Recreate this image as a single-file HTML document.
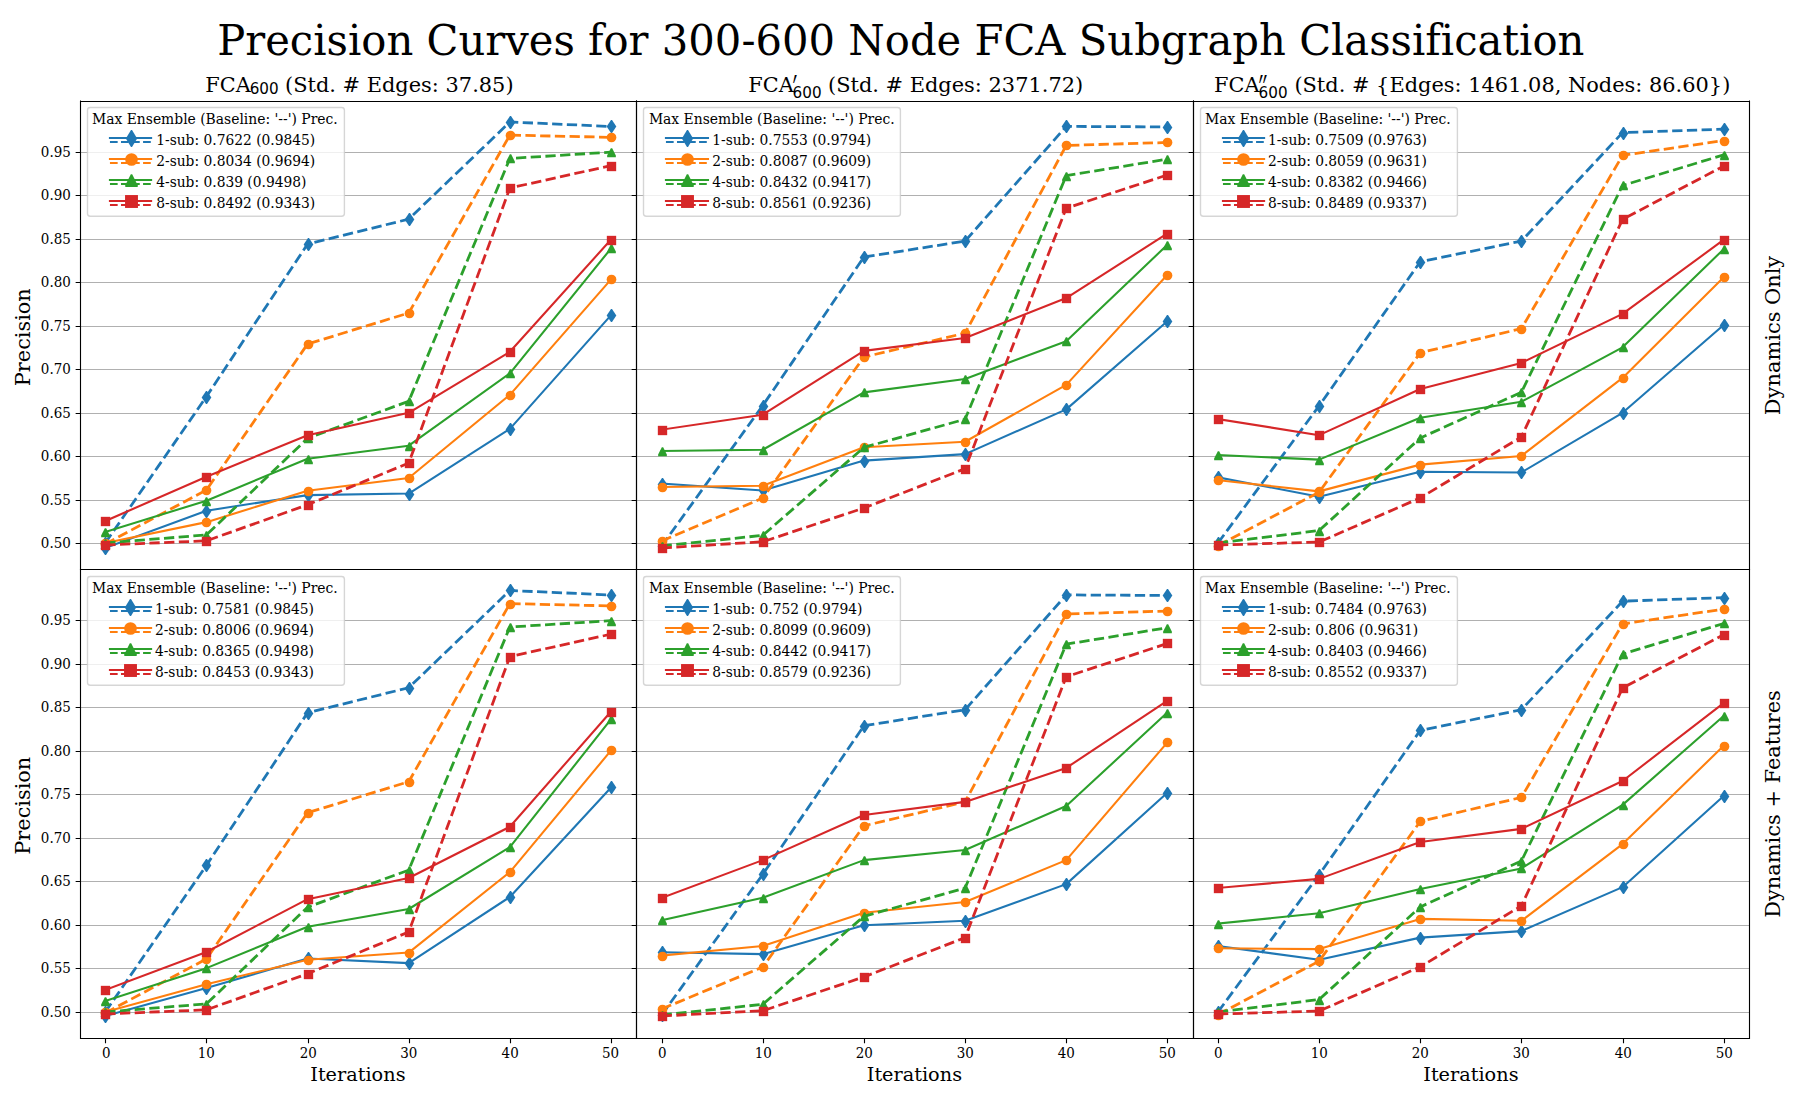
<!DOCTYPE html>
<html lang="en"><head><meta charset="utf-8"><title>Precision Curves for 300-600 Node FCA Subgraph Classification</title>
<style>html,body{margin:0;padding:0;background:#fff}svg{display:block}text{font-variant-ligatures:none;font-feature-settings:"liga" 0,"clig" 0}</style></head>
<body>
<svg width="1800" height="1100" viewBox="0 0 1800 1100" font-family="'DejaVu Serif', 'Liberation Serif', serif" fill="#000">
<rect width="1800" height="1100" fill="#fff"/>
<text transform="translate(900.8 55.2) scale(1 1.033)" font-size="41.71" text-anchor="middle">Precision Curves for 300-600 Node FCA Subgraph Classification</text>
<g>
<path d="M80.5 543.5H636.5M80.5 500.5H636.5M80.5 456.5H636.5M80.5 413.5H636.5M80.5 369.5H636.5M80.5 326.5H636.5M80.5 282.5H636.5M80.5 239.5H636.5M80.5 195.5H636.5M80.5 152.5H636.5" stroke="#b0b0b0" stroke-width="1.11" fill="none"/>
<polyline points="105.29,548 206.44,510.67 307.59,495.12 408.74,493.55 509.89,428.9 611.04,315.15" fill="none" stroke="#1f77b4" stroke-width="2.08" stroke-linejoin="round" stroke-linecap="square"/>
<polygon points="105,542 106,542 110.35,548.5 106,555 105,555 100.65,548.5" fill="#1f77b4"/>
<polygon points="206,505 207,505 211.35,511.5 207,518 206,518 201.65,511.5" fill="#1f77b4"/>
<polygon points="308,489 309,489 313.35,495.5 309,502 308,502 303.65,495.5" fill="#1f77b4"/>
<polygon points="409,488 410,488 414.35,494.5 410,501 409,501 404.65,494.5" fill="#1f77b4"/>
<polygon points="510,423 511,423 515.35,429.5 511,436 510,436 505.65,429.5" fill="#1f77b4"/>
<polygon points="611,309 612,309 616.35,315.5 612,322 611,322 606.65,315.5" fill="#1f77b4"/>
<polyline points="105.29,543 206.44,396.57 307.59,244.06 408.74,219.12 509.89,121.97 611.04,126.49" fill="none" stroke="#1f77b4" stroke-width="2.78" stroke-dasharray="10.28 4.44" stroke-linejoin="round"/>
<polygon points="105,537 106,537 110.35,543.5 106,550 105,550 100.65,543.5" fill="#1f77b4"/>
<polygon points="206,391 207,391 211.35,397.5 207,404 206,404 201.65,397.5" fill="#1f77b4"/>
<polygon points="308,238 309,238 313.35,244.5 309,251 308,251 303.65,244.5" fill="#1f77b4"/>
<polygon points="409,213 410,213 414.35,219.5 410,226 409,226 404.65,219.5" fill="#1f77b4"/>
<polygon points="510,116 511,116 515.35,122.5 511,129 510,129 505.65,122.5" fill="#1f77b4"/>
<polygon points="611,120 612,120 616.35,126.5 612,133 611,133 606.65,126.5" fill="#1f77b4"/>
<polyline points="105.29,543 206.44,522.14 307.59,490.77 408.74,478 509.89,394.84 611.04,279.35" fill="none" stroke="#ff7f0e" stroke-width="2.08" stroke-linejoin="round" stroke-linecap="square"/>
<circle cx="105.5" cy="543.5" r="4.85" fill="#ff7f0e"/>
<circle cx="206.5" cy="522.5" r="4.85" fill="#ff7f0e"/>
<circle cx="308.5" cy="491.5" r="4.85" fill="#ff7f0e"/>
<circle cx="409.5" cy="478.5" r="4.85" fill="#ff7f0e"/>
<circle cx="510.5" cy="395.5" r="4.85" fill="#ff7f0e"/>
<circle cx="611.5" cy="279.5" r="4.85" fill="#ff7f0e"/>
<polyline points="105.29,544 206.44,489.99 307.59,344 408.74,312.98 509.89,135.09 611.04,137.35" fill="none" stroke="#ff7f0e" stroke-width="2.78" stroke-dasharray="10.28 4.44" stroke-linejoin="round"/>
<circle cx="105.5" cy="544.5" r="4.85" fill="#ff7f0e"/>
<circle cx="206.5" cy="490.5" r="4.85" fill="#ff7f0e"/>
<circle cx="308.5" cy="344.5" r="4.85" fill="#ff7f0e"/>
<circle cx="409.5" cy="313.5" r="4.85" fill="#ff7f0e"/>
<circle cx="510.5" cy="135.5" r="4.85" fill="#ff7f0e"/>
<circle cx="611.5" cy="137.5" r="4.85" fill="#ff7f0e"/>
<polyline points="105.29,532 206.44,500.68 307.59,458.71 408.74,445.67 509.89,373.37 611.04,248.41" fill="none" stroke="#2ca02c" stroke-width="2.08" stroke-linejoin="round" stroke-linecap="square"/>
<polygon points="104.8,528.3 106.2,528.3 109.85,535.6 109.85,537.2 101.15,537.2 101.15,535.6" fill="#2ca02c"/>
<polygon points="205.8,497.3 207.2,497.3 210.85,504.6 210.85,506.2 202.15,506.2 202.15,504.6" fill="#2ca02c"/>
<polygon points="307.8,455.3 309.2,455.3 312.85,462.6 312.85,464.2 304.15,464.2 304.15,462.6" fill="#2ca02c"/>
<polygon points="408.8,442.3 410.2,442.3 413.85,449.6 413.85,451.2 405.15,451.2 405.15,449.6" fill="#2ca02c"/>
<polygon points="509.8,369.3 511.2,369.3 514.85,376.6 514.85,378.2 506.15,378.2 506.15,376.6" fill="#2ca02c"/>
<polygon points="610.8,244.3 612.2,244.3 615.85,251.6 615.85,253.2 607.15,253.2 607.15,251.6" fill="#2ca02c"/>
<polyline points="105.29,543 206.44,534.92 307.59,438.29 408.74,401.27 509.89,158.47 611.04,152.12" fill="none" stroke="#2ca02c" stroke-width="2.78" stroke-dasharray="10.28 4.44" stroke-linejoin="round"/>
<polygon points="104.8,539.3 106.2,539.3 109.85,546.6 109.85,548.2 101.15,548.2 101.15,546.6" fill="#2ca02c"/>
<polygon points="205.8,531.3 207.2,531.3 210.85,538.6 210.85,540.2 202.15,540.2 202.15,538.6" fill="#2ca02c"/>
<polygon points="307.8,434.3 309.2,434.3 312.85,441.6 312.85,443.2 304.15,443.2 304.15,441.6" fill="#2ca02c"/>
<polygon points="408.8,397.3 410.2,397.3 413.85,404.6 413.85,406.2 405.15,406.2 405.15,404.6" fill="#2ca02c"/>
<polygon points="509.8,154.3 511.2,154.3 514.85,161.6 514.85,163.2 506.15,163.2 506.15,161.6" fill="#2ca02c"/>
<polygon points="610.8,148.3 612.2,148.3 615.85,155.6 615.85,157.2 607.15,157.2 607.15,155.6" fill="#2ca02c"/>
<polyline points="105.29,521.01 206.44,476.78 307.59,435.24 408.74,412.82 509.89,351.82 611.04,239.55" fill="none" stroke="#d62728" stroke-width="2.08" stroke-linejoin="round" stroke-linecap="square"/>
<rect x="100.83" y="516.83" width="9.34" height="9.34" fill="#d62728"/>
<rect x="201.83" y="472.83" width="9.34" height="9.34" fill="#d62728"/>
<rect x="303.83" y="430.83" width="9.34" height="9.34" fill="#d62728"/>
<rect x="404.83" y="408.83" width="9.34" height="9.34" fill="#d62728"/>
<rect x="505.83" y="347.83" width="9.34" height="9.34" fill="#d62728"/>
<rect x="606.83" y="235.83" width="9.34" height="9.34" fill="#d62728"/>
<polyline points="105.29,545 206.44,540.83 307.59,504.76 408.74,463.05 509.89,188.01 611.04,165.59" fill="none" stroke="#d62728" stroke-width="2.78" stroke-dasharray="10.28 4.44" stroke-linejoin="round"/>
<rect x="100.83" y="540.83" width="9.34" height="9.34" fill="#d62728"/>
<rect x="201.83" y="536.83" width="9.34" height="9.34" fill="#d62728"/>
<rect x="303.83" y="500.83" width="9.34" height="9.34" fill="#d62728"/>
<rect x="404.83" y="458.83" width="9.34" height="9.34" fill="#d62728"/>
<rect x="505.83" y="183.83" width="9.34" height="9.34" fill="#d62728"/>
<rect x="606.83" y="161.83" width="9.34" height="9.34" fill="#d62728"/>
<path d="M80.5 543.5h-4.86M80.5 500.5h-4.86M80.5 456.5h-4.86M80.5 413.5h-4.86M80.5 369.5h-4.86M80.5 326.5h-4.86M80.5 282.5h-4.86M80.5 239.5h-4.86M80.5 195.5h-4.86M80.5 152.5h-4.86" stroke="#000" stroke-width="1.11" fill="none"/>
<path d="M80.5 101.05V569.5M636.5 101.05V569.5M80.5 101.5H636.5M80.5 569.5H636.5" fill="none" stroke="#000" stroke-width="1.11" stroke-linecap="square"/>
<g font-size="13.46" text-anchor="end">
<text transform="translate(70.8 547.9) scale(1 1.08)">0.50</text>
<text transform="translate(70.8 504.9) scale(1 1.08)">0.55</text>
<text transform="translate(70.8 460.9) scale(1 1.08)">0.60</text>
<text transform="translate(70.8 417.9) scale(1 1.08)">0.65</text>
<text transform="translate(70.8 373.9) scale(1 1.08)">0.70</text>
<text transform="translate(70.8 330.9) scale(1 1.08)">0.75</text>
<text transform="translate(70.8 286.9) scale(1 1.08)">0.80</text>
<text transform="translate(70.8 243.9) scale(1 1.08)">0.85</text>
<text transform="translate(70.8 199.9) scale(1 1.08)">0.90</text>
<text transform="translate(70.8 156.9) scale(1 1.08)">0.95</text>
</g>
<text transform="translate(30.1 337.2) rotate(-90)" font-size="20.83" text-anchor="middle">Precision</text>
<rect x="87.5" y="107.5" width="256.9" height="108.75" rx="2.8" ry="2.8" fill="#fff" fill-opacity="0.8" stroke="#ccc" stroke-opacity="0.8" stroke-width="1.39"/>
<g font-size="13.89">
<text transform="translate(92 124.1) scale(1 1.08)">Max Ensemble (Baseline: '--') Prec.</text>
<path d="M109.95 138H151.1" stroke="#1f77b4" stroke-width="2.08" stroke-linecap="square" fill="none"/>
<path d="M109.95 142H151.62" stroke="#1f77b4" stroke-width="2.08" stroke-dasharray="7.71 3.33" fill="none"/>
<polygon points="131,129.9 132,129.9 137.15,138.5 132,147.1 131,147.1 125.85,138.5" fill="#1f77b4"/>
<text transform="translate(156.2 144.86) scale(1 1.08)" font-size="13.8">1-sub: 0.7622 (0.9845)</text>
<path d="M109.95 159H151.1" stroke="#ff7f0e" stroke-width="2.08" stroke-linecap="square" fill="none"/>
<path d="M109.95 163H151.62" stroke="#ff7f0e" stroke-width="2.08" stroke-dasharray="7.71 3.33" fill="none"/>
<circle cx="131.5" cy="159.5" r="6.35" fill="#ff7f0e"/>
<text transform="translate(156.2 165.91) scale(1 1.08)" font-size="13.8">2-sub: 0.8034 (0.9694)</text>
<path d="M109.95 180H151.1" stroke="#2ca02c" stroke-width="2.08" stroke-linecap="square" fill="none"/>
<path d="M109.95 184H151.62" stroke="#2ca02c" stroke-width="2.08" stroke-dasharray="7.71 3.33" fill="none"/>
<polygon points="130.8,174.3 132.2,174.3 137.7,185.3 137.7,186.9 125.3,186.9 125.3,185.3" fill="#2ca02c"/>
<text transform="translate(156.2 186.96) scale(1 1.08)" font-size="13.8">4-sub: 0.839 (0.9498)</text>
<path d="M109.95 201H151.1" stroke="#d62728" stroke-width="2.08" stroke-linecap="square" fill="none"/>
<path d="M109.95 205H151.62" stroke="#d62728" stroke-width="2.08" stroke-dasharray="7.71 3.33" fill="none"/>
<rect x="125.05" y="195.05" width="12.9" height="12.9" fill="#d62728"/>
<text transform="translate(156.2 208.01) scale(1 1.08)" font-size="13.8">8-sub: 0.8492 (0.9343)</text>
</g>
</g>
<g>
<path d="M636.5 543.5H1193.5M636.5 500.5H1193.5M636.5 456.5H1193.5M636.5 413.5H1193.5M636.5 369.5H1193.5M636.5 326.5H1193.5M636.5 282.5H1193.5M636.5 239.5H1193.5M636.5 195.5H1193.5M636.5 152.5H1193.5" stroke="#b0b0b0" stroke-width="1.11" fill="none"/>
<polyline points="661.62,483.65 762.77,490.43 863.92,460.62 965.08,454.1 1066.23,409.35 1167.38,321.14" fill="none" stroke="#1f77b4" stroke-width="2.08" stroke-linejoin="round" stroke-linecap="square"/>
<polygon points="662,478 663,478 667.35,484.5 663,491 662,491 657.65,484.5" fill="#1f77b4"/>
<polygon points="763,484 764,484 768.35,490.5 764,497 763,497 758.65,490.5" fill="#1f77b4"/>
<polygon points="864,455 865,455 869.35,461.5 865,468 864,468 859.65,461.5" fill="#1f77b4"/>
<polygon points="965,448 966,448 970.35,454.5 966,461 965,461 960.65,454.5" fill="#1f77b4"/>
<polygon points="1066,403 1067,403 1071.35,409.5 1067,416 1066,416 1061.65,409.5" fill="#1f77b4"/>
<polygon points="1167,315 1168,315 1172.35,321.5 1168,328 1167,328 1162.65,321.5" fill="#1f77b4"/>
<polyline points="661.62,546 762.77,405.52 863.92,257.01 965.08,241.11 1066.23,126.4 1167.38,126.92" fill="none" stroke="#1f77b4" stroke-width="2.78" stroke-dasharray="10.28 4.44" stroke-linejoin="round"/>
<polygon points="662,540 663,540 667.35,546.5 663,553 662,553 657.65,546.5" fill="#1f77b4"/>
<polygon points="763,400 764,400 768.35,406.5 764,413 763,413 758.65,406.5" fill="#1f77b4"/>
<polygon points="864,251 865,251 869.35,257.5 865,264 864,264 859.65,257.5" fill="#1f77b4"/>
<polygon points="965,235 966,235 970.35,241.5 966,248 965,248 960.65,241.5" fill="#1f77b4"/>
<polygon points="1066,120 1067,120 1071.35,126.5 1067,133 1066,133 1061.65,126.5" fill="#1f77b4"/>
<polygon points="1167,121 1168,121 1172.35,127.5 1168,134 1167,134 1162.65,127.5" fill="#1f77b4"/>
<polyline points="661.62,487.04 762.77,485.82 863.92,447.24 965.08,441.76 1066.23,384.84 1167.38,274.74" fill="none" stroke="#ff7f0e" stroke-width="2.08" stroke-linejoin="round" stroke-linecap="square"/>
<circle cx="662.5" cy="487.5" r="4.85" fill="#ff7f0e"/>
<circle cx="763.5" cy="486.5" r="4.85" fill="#ff7f0e"/>
<circle cx="864.5" cy="447.5" r="4.85" fill="#ff7f0e"/>
<circle cx="965.5" cy="442.5" r="4.85" fill="#ff7f0e"/>
<circle cx="1066.5" cy="385.5" r="4.85" fill="#ff7f0e"/>
<circle cx="1167.5" cy="275.5" r="4.85" fill="#ff7f0e"/>
<polyline points="661.62,541 762.77,498.07 863.92,357.03 965.08,333.14 1066.23,145.43 1167.38,142.48" fill="none" stroke="#ff7f0e" stroke-width="2.78" stroke-dasharray="10.28 4.44" stroke-linejoin="round"/>
<circle cx="662.5" cy="541.5" r="4.85" fill="#ff7f0e"/>
<circle cx="763.5" cy="498.5" r="4.85" fill="#ff7f0e"/>
<circle cx="864.5" cy="357.5" r="4.85" fill="#ff7f0e"/>
<circle cx="965.5" cy="333.5" r="4.85" fill="#ff7f0e"/>
<circle cx="1066.5" cy="145.5" r="4.85" fill="#ff7f0e"/>
<circle cx="1167.5" cy="142.5" r="4.85" fill="#ff7f0e"/>
<polyline points="661.62,450.97 762.77,449.76 863.92,392.4 965.08,378.93 1066.23,341.22 1167.38,244.76" fill="none" stroke="#2ca02c" stroke-width="2.08" stroke-linejoin="round" stroke-linecap="square"/>
<polygon points="661.8,447.3 663.2,447.3 666.85,454.6 666.85,456.2 658.15,456.2 658.15,454.6" fill="#2ca02c"/>
<polygon points="762.8,446.3 764.2,446.3 767.85,453.6 767.85,455.2 759.15,455.2 759.15,453.6" fill="#2ca02c"/>
<polygon points="863.8,388.3 865.2,388.3 868.85,395.6 868.85,397.2 860.15,397.2 860.15,395.6" fill="#2ca02c"/>
<polygon points="964.8,375.3 966.2,375.3 969.85,382.6 969.85,384.2 961.15,384.2 961.15,382.6" fill="#2ca02c"/>
<polygon points="1065.8,337.3 1067.2,337.3 1070.85,344.6 1070.85,346.2 1062.15,346.2 1062.15,344.6" fill="#2ca02c"/>
<polygon points="1166.8,241.3 1168.2,241.3 1171.85,248.6 1171.85,250.2 1163.15,250.2 1163.15,248.6" fill="#2ca02c"/>
<polyline points="661.62,546 762.77,535.35 863.92,447.41 965.08,419.25 1066.23,175.59 1167.38,159.16" fill="none" stroke="#2ca02c" stroke-width="2.78" stroke-dasharray="10.28 4.44" stroke-linejoin="round"/>
<polygon points="661.8,542.3 663.2,542.3 666.85,549.6 666.85,551.2 658.15,551.2 658.15,549.6" fill="#2ca02c"/>
<polygon points="762.8,531.3 764.2,531.3 767.85,538.6 767.85,540.2 759.15,540.2 759.15,538.6" fill="#2ca02c"/>
<polygon points="863.8,443.3 865.2,443.3 868.85,450.6 868.85,452.2 860.15,452.2 860.15,450.6" fill="#2ca02c"/>
<polygon points="964.8,415.3 966.2,415.3 969.85,422.6 969.85,424.2 961.15,424.2 961.15,422.6" fill="#2ca02c"/>
<polygon points="1065.8,172.3 1067.2,172.3 1070.85,179.6 1070.85,181.2 1062.15,181.2 1062.15,179.6" fill="#2ca02c"/>
<polygon points="1166.8,155.3 1168.2,155.3 1171.85,162.6 1171.85,164.2 1163.15,164.2 1163.15,162.6" fill="#2ca02c"/>
<polyline points="661.62,429.68 762.77,414.74 863.92,350.86 965.08,337.92 1066.23,298.03 1167.38,233.55" fill="none" stroke="#d62728" stroke-width="2.08" stroke-linejoin="round" stroke-linecap="square"/>
<rect x="657.83" y="425.83" width="9.34" height="9.34" fill="#d62728"/>
<rect x="758.83" y="410.83" width="9.34" height="9.34" fill="#d62728"/>
<rect x="859.83" y="346.83" width="9.34" height="9.34" fill="#d62728"/>
<rect x="960.83" y="333.83" width="9.34" height="9.34" fill="#d62728"/>
<rect x="1061.83" y="293.83" width="9.34" height="9.34" fill="#d62728"/>
<rect x="1162.83" y="229.83" width="9.34" height="9.34" fill="#d62728"/>
<polyline points="661.62,548 762.77,541.78 863.92,507.98 965.08,468.7 1066.23,208.17 1167.38,174.89" fill="none" stroke="#d62728" stroke-width="2.78" stroke-dasharray="10.28 4.44" stroke-linejoin="round"/>
<rect x="657.83" y="543.83" width="9.34" height="9.34" fill="#d62728"/>
<rect x="758.83" y="537.83" width="9.34" height="9.34" fill="#d62728"/>
<rect x="859.83" y="503.83" width="9.34" height="9.34" fill="#d62728"/>
<rect x="960.83" y="464.83" width="9.34" height="9.34" fill="#d62728"/>
<rect x="1061.83" y="203.83" width="9.34" height="9.34" fill="#d62728"/>
<rect x="1162.83" y="170.83" width="9.34" height="9.34" fill="#d62728"/>
<path d="M636.5 543.5h-4.86M636.5 500.5h-4.86M636.5 456.5h-4.86M636.5 413.5h-4.86M636.5 369.5h-4.86M636.5 326.5h-4.86M636.5 282.5h-4.86M636.5 239.5h-4.86M636.5 195.5h-4.86M636.5 152.5h-4.86" stroke="#000" stroke-width="1.11" fill="none"/>
<path d="M636.5 101.05V569.5M1193.5 101.05V569.5M636.5 101.5H1193.5M636.5 569.5H1193.5" fill="none" stroke="#000" stroke-width="1.11" stroke-linecap="square"/>
<rect x="643.5" y="107.5" width="256.9" height="108.75" rx="2.8" ry="2.8" fill="#fff" fill-opacity="0.8" stroke="#ccc" stroke-opacity="0.8" stroke-width="1.39"/>
<g font-size="13.89">
<text transform="translate(648.9 124.1) scale(1 1.08)">Max Ensemble (Baseline: '--') Prec.</text>
<path d="M665.95 138H708" stroke="#1f77b4" stroke-width="2.08" stroke-linecap="square" fill="none"/>
<path d="M665.95 142H707.62" stroke="#1f77b4" stroke-width="2.08" stroke-dasharray="7.71 3.33" fill="none"/>
<polygon points="687,129.9 688,129.9 693.15,138.5 688,147.1 687,147.1 681.85,138.5" fill="#1f77b4"/>
<text transform="translate(712.2 144.86) scale(1 1.08)" font-size="13.8">1-sub: 0.7553 (0.9794)</text>
<path d="M665.95 159H708" stroke="#ff7f0e" stroke-width="2.08" stroke-linecap="square" fill="none"/>
<path d="M665.95 163H707.62" stroke="#ff7f0e" stroke-width="2.08" stroke-dasharray="7.71 3.33" fill="none"/>
<circle cx="687.5" cy="159.5" r="6.35" fill="#ff7f0e"/>
<text transform="translate(712.2 165.91) scale(1 1.08)" font-size="13.8">2-sub: 0.8087 (0.9609)</text>
<path d="M665.95 180H708" stroke="#2ca02c" stroke-width="2.08" stroke-linecap="square" fill="none"/>
<path d="M665.95 184H707.62" stroke="#2ca02c" stroke-width="2.08" stroke-dasharray="7.71 3.33" fill="none"/>
<polygon points="686.8,174.3 688.2,174.3 693.7,185.3 693.7,186.9 681.3,186.9 681.3,185.3" fill="#2ca02c"/>
<text transform="translate(712.2 186.96) scale(1 1.08)" font-size="13.8">4-sub: 0.8432 (0.9417)</text>
<path d="M665.95 201H708" stroke="#d62728" stroke-width="2.08" stroke-linecap="square" fill="none"/>
<path d="M665.95 205H707.62" stroke="#d62728" stroke-width="2.08" stroke-dasharray="7.71 3.33" fill="none"/>
<rect x="681.05" y="195.05" width="12.9" height="12.9" fill="#d62728"/>
<text transform="translate(712.2 208.01) scale(1 1.08)" font-size="13.8">8-sub: 0.8561 (0.9236)</text>
</g>
</g>
<g>
<path d="M1193.5 543.5H1749.5M1193.5 500.5H1749.5M1193.5 456.5H1749.5M1193.5 413.5H1749.5M1193.5 369.5H1749.5M1193.5 326.5H1749.5M1193.5 282.5H1749.5M1193.5 239.5H1749.5M1193.5 195.5H1749.5M1193.5 152.5H1749.5" stroke="#b0b0b0" stroke-width="1.11" fill="none"/>
<polyline points="1217.96,477.39 1319.11,496.68 1420.26,471.83 1521.41,472.44 1622.56,412.82 1723.71,324.97" fill="none" stroke="#1f77b4" stroke-width="2.08" stroke-linejoin="round" stroke-linecap="square"/>
<polygon points="1218,471 1219,471 1223.35,477.5 1219,484 1218,484 1213.65,477.5" fill="#1f77b4"/>
<polygon points="1319,491 1320,491 1324.35,497.5 1320,504 1319,504 1314.65,497.5" fill="#1f77b4"/>
<polygon points="1420,466 1421,466 1425.35,472.5 1421,479 1420,479 1415.65,472.5" fill="#1f77b4"/>
<polygon points="1521,466 1522,466 1526.35,472.5 1522,479 1521,479 1516.65,472.5" fill="#1f77b4"/>
<polygon points="1623,407 1624,407 1628.35,413.5 1624,420 1623,420 1618.65,413.5" fill="#1f77b4"/>
<polygon points="1724,319 1725,319 1729.35,325.5 1725,332 1724,332 1719.65,325.5" fill="#1f77b4"/>
<polyline points="1217.96,543 1319.11,405.87 1420.26,261.7 1521.41,241.11 1622.56,132.66 1723.71,129.1" fill="none" stroke="#1f77b4" stroke-width="2.78" stroke-dasharray="10.28 4.44" stroke-linejoin="round"/>
<polygon points="1218,537 1219,537 1223.35,543.5 1219,550 1218,550 1213.65,543.5" fill="#1f77b4"/>
<polygon points="1319,400 1320,400 1324.35,406.5 1320,413 1319,413 1314.65,406.5" fill="#1f77b4"/>
<polygon points="1420,256 1421,256 1425.35,262.5 1421,269 1420,269 1415.65,262.5" fill="#1f77b4"/>
<polygon points="1521,235 1522,235 1526.35,241.5 1522,248 1521,248 1516.65,241.5" fill="#1f77b4"/>
<polygon points="1623,127 1624,127 1628.35,133.5 1624,140 1623,140 1618.65,133.5" fill="#1f77b4"/>
<polygon points="1724,123 1725,123 1729.35,129.5 1725,136 1724,136 1719.65,129.5" fill="#1f77b4"/>
<polyline points="1217.96,480.17 1319.11,491.38 1420.26,464.62 1521.41,455.93 1622.56,377.89 1723.71,277.17" fill="none" stroke="#ff7f0e" stroke-width="2.08" stroke-linejoin="round" stroke-linecap="square"/>
<circle cx="1218.5" cy="480.5" r="4.85" fill="#ff7f0e"/>
<circle cx="1319.5" cy="491.5" r="4.85" fill="#ff7f0e"/>
<circle cx="1420.5" cy="465.5" r="4.85" fill="#ff7f0e"/>
<circle cx="1521.5" cy="456.5" r="4.85" fill="#ff7f0e"/>
<circle cx="1623.5" cy="378.5" r="4.85" fill="#ff7f0e"/>
<circle cx="1724.5" cy="277.5" r="4.85" fill="#ff7f0e"/>
<polyline points="1217.96,545.61 1319.11,492.16 1420.26,352.69 1521.41,328.62 1622.56,155.34 1723.71,140.57" fill="none" stroke="#ff7f0e" stroke-width="2.78" stroke-dasharray="10.28 4.44" stroke-linejoin="round"/>
<circle cx="1218.5" cy="546.5" r="4.85" fill="#ff7f0e"/>
<circle cx="1319.5" cy="492.5" r="4.85" fill="#ff7f0e"/>
<circle cx="1420.5" cy="353.5" r="4.85" fill="#ff7f0e"/>
<circle cx="1521.5" cy="329.5" r="4.85" fill="#ff7f0e"/>
<circle cx="1623.5" cy="155.5" r="4.85" fill="#ff7f0e"/>
<circle cx="1724.5" cy="141.5" r="4.85" fill="#ff7f0e"/>
<polyline points="1217.96,454.97 1319.11,459.66 1420.26,417.69 1521.41,401.7 1622.56,347.3 1723.71,249.1" fill="none" stroke="#2ca02c" stroke-width="2.08" stroke-linejoin="round" stroke-linecap="square"/>
<polygon points="1217.8,451.3 1219.2,451.3 1222.85,458.6 1222.85,460.2 1214.15,460.2 1214.15,458.6" fill="#2ca02c"/>
<polygon points="1318.8,456.3 1320.2,456.3 1323.85,463.6 1323.85,465.2 1315.15,465.2 1315.15,463.6" fill="#2ca02c"/>
<polygon points="1419.8,414.3 1421.2,414.3 1424.85,421.6 1424.85,423.2 1416.15,423.2 1416.15,421.6" fill="#2ca02c"/>
<polygon points="1520.8,398.3 1522.2,398.3 1525.85,405.6 1525.85,407.2 1517.15,407.2 1517.15,405.6" fill="#2ca02c"/>
<polygon points="1622.8,343.3 1624.2,343.3 1627.85,350.6 1627.85,352.2 1619.15,352.2 1619.15,350.6" fill="#2ca02c"/>
<polygon points="1723.8,245.3 1725.2,245.3 1728.85,252.6 1728.85,254.2 1720.15,254.2 1720.15,252.6" fill="#2ca02c"/>
<polyline points="1217.96,543 1319.11,530.57 1420.26,438.02 1521.41,392.23 1622.56,185.49 1723.71,154.9" fill="none" stroke="#2ca02c" stroke-width="2.78" stroke-dasharray="10.28 4.44" stroke-linejoin="round"/>
<polygon points="1217.8,539.3 1219.2,539.3 1222.85,546.6 1222.85,548.2 1214.15,548.2 1214.15,546.6" fill="#2ca02c"/>
<polygon points="1318.8,527.3 1320.2,527.3 1323.85,534.6 1323.85,536.2 1315.15,536.2 1315.15,534.6" fill="#2ca02c"/>
<polygon points="1419.8,434.3 1421.2,434.3 1424.85,441.6 1424.85,443.2 1416.15,443.2 1416.15,441.6" fill="#2ca02c"/>
<polygon points="1520.8,388.3 1522.2,388.3 1525.85,395.6 1525.85,397.2 1517.15,397.2 1517.15,395.6" fill="#2ca02c"/>
<polygon points="1622.8,181.3 1624.2,181.3 1627.85,188.6 1627.85,190.2 1619.15,190.2 1619.15,188.6" fill="#2ca02c"/>
<polygon points="1723.8,151.3 1725.2,151.3 1728.85,158.6 1728.85,160.2 1720.15,160.2 1720.15,158.6" fill="#2ca02c"/>
<polyline points="1217.96,419.08 1319.11,435.16 1420.26,388.93 1521.41,362.94 1622.56,313.84 1723.71,239.81" fill="none" stroke="#d62728" stroke-width="2.08" stroke-linejoin="round" stroke-linecap="square"/>
<rect x="1213.83" y="414.83" width="9.34" height="9.34" fill="#d62728"/>
<rect x="1314.83" y="430.83" width="9.34" height="9.34" fill="#d62728"/>
<rect x="1415.83" y="384.83" width="9.34" height="9.34" fill="#d62728"/>
<rect x="1516.83" y="358.83" width="9.34" height="9.34" fill="#d62728"/>
<rect x="1618.83" y="309.83" width="9.34" height="9.34" fill="#d62728"/>
<rect x="1719.83" y="235.83" width="9.34" height="9.34" fill="#d62728"/>
<polyline points="1217.96,545 1319.11,542.04 1420.26,497.9 1521.41,436.98 1622.56,219.38 1723.71,166.11" fill="none" stroke="#d62728" stroke-width="2.78" stroke-dasharray="10.28 4.44" stroke-linejoin="round"/>
<rect x="1213.83" y="540.83" width="9.34" height="9.34" fill="#d62728"/>
<rect x="1314.83" y="537.83" width="9.34" height="9.34" fill="#d62728"/>
<rect x="1415.83" y="493.83" width="9.34" height="9.34" fill="#d62728"/>
<rect x="1516.83" y="432.83" width="9.34" height="9.34" fill="#d62728"/>
<rect x="1618.83" y="214.83" width="9.34" height="9.34" fill="#d62728"/>
<rect x="1719.83" y="161.83" width="9.34" height="9.34" fill="#d62728"/>
<path d="M1193.5 543.5h-4.86M1193.5 500.5h-4.86M1193.5 456.5h-4.86M1193.5 413.5h-4.86M1193.5 369.5h-4.86M1193.5 326.5h-4.86M1193.5 282.5h-4.86M1193.5 239.5h-4.86M1193.5 195.5h-4.86M1193.5 152.5h-4.86" stroke="#000" stroke-width="1.11" fill="none"/>
<path d="M1193.5 101.05V569.5M1749.5 101.05V569.5M1193.5 101.5H1749.5M1193.5 569.5H1749.5" fill="none" stroke="#000" stroke-width="1.11" stroke-linecap="square"/>
<text transform="translate(1780.2 335.5) rotate(-90)" font-size="20.93" text-anchor="middle">Dynamics Only</text>
<rect x="1200.5" y="107.5" width="256.9" height="108.75" rx="2.8" ry="2.8" fill="#fff" fill-opacity="0.8" stroke="#ccc" stroke-opacity="0.8" stroke-width="1.39"/>
<g font-size="13.89">
<text transform="translate(1205 124.1) scale(1 1.08)">Max Ensemble (Baseline: '--') Prec.</text>
<path d="M1222.95 138H1264.1" stroke="#1f77b4" stroke-width="2.08" stroke-linecap="square" fill="none"/>
<path d="M1222.95 142H1264.62" stroke="#1f77b4" stroke-width="2.08" stroke-dasharray="7.71 3.33" fill="none"/>
<polygon points="1243,129.9 1244,129.9 1249.15,138.5 1244,147.1 1243,147.1 1237.85,138.5" fill="#1f77b4"/>
<text transform="translate(1267.9 144.86) scale(1 1.08)" font-size="13.8">1-sub: 0.7509 (0.9763)</text>
<path d="M1222.95 159H1264.1" stroke="#ff7f0e" stroke-width="2.08" stroke-linecap="square" fill="none"/>
<path d="M1222.95 163H1264.62" stroke="#ff7f0e" stroke-width="2.08" stroke-dasharray="7.71 3.33" fill="none"/>
<circle cx="1243.5" cy="159.5" r="6.35" fill="#ff7f0e"/>
<text transform="translate(1267.9 165.91) scale(1 1.08)" font-size="13.8">2-sub: 0.8059 (0.9631)</text>
<path d="M1222.95 180H1264.1" stroke="#2ca02c" stroke-width="2.08" stroke-linecap="square" fill="none"/>
<path d="M1222.95 184H1264.62" stroke="#2ca02c" stroke-width="2.08" stroke-dasharray="7.71 3.33" fill="none"/>
<polygon points="1242.8,174.3 1244.2,174.3 1249.7,185.3 1249.7,186.9 1237.3,186.9 1237.3,185.3" fill="#2ca02c"/>
<text transform="translate(1267.9 186.96) scale(1 1.08)" font-size="13.8">4-sub: 0.8382 (0.9466)</text>
<path d="M1222.95 201H1264.1" stroke="#d62728" stroke-width="2.08" stroke-linecap="square" fill="none"/>
<path d="M1222.95 205H1264.62" stroke="#d62728" stroke-width="2.08" stroke-dasharray="7.71 3.33" fill="none"/>
<rect x="1237.05" y="195.05" width="12.9" height="12.9" fill="#d62728"/>
<text transform="translate(1267.9 208.01) scale(1 1.08)" font-size="13.8">8-sub: 0.8489 (0.9337)</text>
</g>
</g>
<g>
<path d="M80.5 1012.5H636.5M80.5 968.5H636.5M80.5 925.5H636.5M80.5 881.5H636.5M80.5 838.5H636.5M80.5 794.5H636.5M80.5 751.5H636.5M80.5 707.5H636.5M80.5 664.5H636.5M80.5 620.5H636.5" stroke="#b0b0b0" stroke-width="1.11" fill="none"/>
<polyline points="105.29,1016 206.44,988.08 307.59,958.5 408.74,963.11 509.89,896.99 611.04,787.45" fill="none" stroke="#1f77b4" stroke-width="2.08" stroke-linejoin="round" stroke-linecap="square"/>
<polygon points="105,1010 106,1010 110.35,1016.5 106,1023 105,1023 100.65,1016.5" fill="#1f77b4"/>
<polygon points="206,982 207,982 211.35,988.5 207,995 206,995 201.65,988.5" fill="#1f77b4"/>
<polygon points="308,952 309,952 313.35,958.5 309,965 308,965 303.65,958.5" fill="#1f77b4"/>
<polygon points="409,957 410,957 414.35,963.5 410,970 409,970 404.65,963.5" fill="#1f77b4"/>
<polygon points="510,891 511,891 515.35,897.5 511,904 510,904 505.65,897.5" fill="#1f77b4"/>
<polygon points="611,781 612,781 616.35,787.5 612,794 611,794 606.65,787.5" fill="#1f77b4"/>
<polyline points="105.29,1012 206.44,865.4 307.59,712.72 408.74,687.75 509.89,590.48 611.04,595.01" fill="none" stroke="#1f77b4" stroke-width="2.78" stroke-dasharray="10.28 4.44" stroke-linejoin="round"/>
<polygon points="105,1006 106,1006 110.35,1012.5 106,1019 105,1019 100.65,1012.5" fill="#1f77b4"/>
<polygon points="206,859 207,859 211.35,865.5 207,872 206,872 201.65,865.5" fill="#1f77b4"/>
<polygon points="308,707 309,707 313.35,713.5 309,720 308,720 303.65,713.5" fill="#1f77b4"/>
<polygon points="409,682 410,682 414.35,688.5 410,695 409,695 404.65,688.5" fill="#1f77b4"/>
<polygon points="510,584 511,584 515.35,590.5 511,597 510,597 505.65,590.5" fill="#1f77b4"/>
<polygon points="611,589 612,589 616.35,595.5 612,602 611,602 606.65,595.5" fill="#1f77b4"/>
<polyline points="105.29,1012 206.44,984.33 307.59,959.71 408.74,952.58 509.89,872.1 611.04,750.48" fill="none" stroke="#ff7f0e" stroke-width="2.08" stroke-linejoin="round" stroke-linecap="square"/>
<circle cx="105.5" cy="1012.5" r="4.85" fill="#ff7f0e"/>
<circle cx="206.5" cy="984.5" r="4.85" fill="#ff7f0e"/>
<circle cx="308.5" cy="960.5" r="4.85" fill="#ff7f0e"/>
<circle cx="409.5" cy="953.5" r="4.85" fill="#ff7f0e"/>
<circle cx="510.5" cy="872.5" r="4.85" fill="#ff7f0e"/>
<circle cx="611.5" cy="750.5" r="4.85" fill="#ff7f0e"/>
<polyline points="105.29,1013 206.44,958.93 307.59,812.77 408.74,781.71 509.89,603.62 611.04,605.88" fill="none" stroke="#ff7f0e" stroke-width="2.78" stroke-dasharray="10.28 4.44" stroke-linejoin="round"/>
<circle cx="105.5" cy="1013.5" r="4.85" fill="#ff7f0e"/>
<circle cx="206.5" cy="959.5" r="4.85" fill="#ff7f0e"/>
<circle cx="308.5" cy="813.5" r="4.85" fill="#ff7f0e"/>
<circle cx="409.5" cy="782.5" r="4.85" fill="#ff7f0e"/>
<circle cx="510.5" cy="604.5" r="4.85" fill="#ff7f0e"/>
<circle cx="611.5" cy="606.5" r="4.85" fill="#ff7f0e"/>
<polyline points="105.29,1001 206.44,968.15 307.59,926.74 408.74,908.99 509.89,847.13 611.04,719.25" fill="none" stroke="#2ca02c" stroke-width="2.08" stroke-linejoin="round" stroke-linecap="square"/>
<polygon points="104.8,997.3 106.2,997.3 109.85,1004.6 109.85,1006.2 101.15,1006.2 101.15,1004.6" fill="#2ca02c"/>
<polygon points="205.8,964.3 207.2,964.3 210.85,971.6 210.85,973.2 202.15,973.2 202.15,971.6" fill="#2ca02c"/>
<polygon points="307.8,923.3 309.2,923.3 312.85,930.6 312.85,932.2 304.15,932.2 304.15,930.6" fill="#2ca02c"/>
<polygon points="408.8,905.3 410.2,905.3 413.85,912.6 413.85,914.2 405.15,914.2 405.15,912.6" fill="#2ca02c"/>
<polygon points="509.8,843.3 511.2,843.3 514.85,850.6 514.85,852.2 506.15,852.2 506.15,850.6" fill="#2ca02c"/>
<polygon points="610.8,715.3 612.2,715.3 615.85,722.6 615.85,724.2 607.15,724.2 607.15,722.6" fill="#2ca02c"/>
<polyline points="105.29,1012 206.44,1003.91 307.59,907.16 408.74,870.1 509.89,627.02 611.04,620.67" fill="none" stroke="#2ca02c" stroke-width="2.78" stroke-dasharray="10.28 4.44" stroke-linejoin="round"/>
<polygon points="104.8,1008.3 106.2,1008.3 109.85,1015.6 109.85,1017.2 101.15,1017.2 101.15,1015.6" fill="#2ca02c"/>
<polygon points="205.8,1000.3 207.2,1000.3 210.85,1007.6 210.85,1009.2 202.15,1009.2 202.15,1007.6" fill="#2ca02c"/>
<polygon points="307.8,903.3 309.2,903.3 312.85,910.6 312.85,912.2 304.15,912.2 304.15,910.6" fill="#2ca02c"/>
<polygon points="408.8,866.3 410.2,866.3 413.85,873.6 413.85,875.2 405.15,875.2 405.15,873.6" fill="#2ca02c"/>
<polygon points="509.8,623.3 511.2,623.3 514.85,630.6 514.85,632.2 506.15,632.2 506.15,630.6" fill="#2ca02c"/>
<polygon points="610.8,617.3 612.2,617.3 615.85,624.6 615.85,626.2 607.15,626.2 607.15,624.6" fill="#2ca02c"/>
<polyline points="105.29,990 206.44,951.97 307.59,899.16 408.74,878.02 509.89,826.78 611.04,711.59" fill="none" stroke="#d62728" stroke-width="2.08" stroke-linejoin="round" stroke-linecap="square"/>
<rect x="100.83" y="985.83" width="9.34" height="9.34" fill="#d62728"/>
<rect x="201.83" y="947.83" width="9.34" height="9.34" fill="#d62728"/>
<rect x="303.83" y="894.83" width="9.34" height="9.34" fill="#d62728"/>
<rect x="404.83" y="873.83" width="9.34" height="9.34" fill="#d62728"/>
<rect x="505.83" y="822.83" width="9.34" height="9.34" fill="#d62728"/>
<rect x="606.83" y="707.83" width="9.34" height="9.34" fill="#d62728"/>
<polyline points="105.29,1014 206.44,1009.83 307.59,973.72 408.74,931.96 509.89,656.61 611.04,634.16" fill="none" stroke="#d62728" stroke-width="2.78" stroke-dasharray="10.28 4.44" stroke-linejoin="round"/>
<rect x="100.83" y="1009.83" width="9.34" height="9.34" fill="#d62728"/>
<rect x="201.83" y="1005.83" width="9.34" height="9.34" fill="#d62728"/>
<rect x="303.83" y="969.83" width="9.34" height="9.34" fill="#d62728"/>
<rect x="404.83" y="927.83" width="9.34" height="9.34" fill="#d62728"/>
<rect x="505.83" y="652.83" width="9.34" height="9.34" fill="#d62728"/>
<rect x="606.83" y="629.83" width="9.34" height="9.34" fill="#d62728"/>
<path d="M80.5 1012.5h-4.86M80.5 968.5h-4.86M80.5 925.5h-4.86M80.5 881.5h-4.86M80.5 838.5h-4.86M80.5 794.5h-4.86M80.5 751.5h-4.86M80.5 707.5h-4.86M80.5 664.5h-4.86M80.5 620.5h-4.86M105.5 1038.5v4.86M206.5 1038.5v4.86M308.5 1038.5v4.86M409.5 1038.5v4.86M510.5 1038.5v4.86M611.5 1038.5v4.86" stroke="#000" stroke-width="1.11" fill="none"/>
<path d="M80.5 569.05V1038.5M636.5 569.05V1038.5M80.5 569.5H636.5M80.5 1038.5H636.5" fill="none" stroke="#000" stroke-width="1.11" stroke-linecap="square"/>
<g font-size="13.46" text-anchor="end">
<text transform="translate(70.8 1016.9) scale(1 1.08)">0.50</text>
<text transform="translate(70.8 972.9) scale(1 1.08)">0.55</text>
<text transform="translate(70.8 929.9) scale(1 1.08)">0.60</text>
<text transform="translate(70.8 885.9) scale(1 1.08)">0.65</text>
<text transform="translate(70.8 842.9) scale(1 1.08)">0.70</text>
<text transform="translate(70.8 798.9) scale(1 1.08)">0.75</text>
<text transform="translate(70.8 755.9) scale(1 1.08)">0.80</text>
<text transform="translate(70.8 711.9) scale(1 1.08)">0.85</text>
<text transform="translate(70.8 668.9) scale(1 1.08)">0.90</text>
<text transform="translate(70.8 624.9) scale(1 1.08)">0.95</text>
</g>
<text transform="translate(30.1 805.7) rotate(-90)" font-size="20.83" text-anchor="middle">Precision</text>
<g font-size="13.46" text-anchor="middle">
<text transform="translate(106.25 1058.2) scale(1 1.08)">0</text>
<text transform="translate(206.35 1058.2) scale(1 1.08)">10</text>
<text transform="translate(308.35 1058.2) scale(1 1.08)">20</text>
<text transform="translate(408.75 1058.2) scale(1 1.08)">30</text>
<text transform="translate(510.15 1058.2) scale(1 1.08)">40</text>
<text transform="translate(610.45 1058.2) scale(1 1.08)">50</text>
</g>
<text x="357.9" y="1081.4" font-size="19.28" text-anchor="middle">Iterations</text>
<rect x="87.5" y="576.5" width="256.9" height="108.75" rx="2.8" ry="2.8" fill="#fff" fill-opacity="0.8" stroke="#ccc" stroke-opacity="0.8" stroke-width="1.39"/>
<g font-size="13.89">
<text transform="translate(92 593.1) scale(1 1.08)">Max Ensemble (Baseline: '--') Prec.</text>
<path d="M109.95 607H151.1" stroke="#1f77b4" stroke-width="2.08" stroke-linecap="square" fill="none"/>
<path d="M109.95 611H151.62" stroke="#1f77b4" stroke-width="2.08" stroke-dasharray="7.71 3.33" fill="none"/>
<polygon points="130,598.9 131,598.9 136.15,607.5 131,616.1 130,616.1 124.85,607.5" fill="#1f77b4"/>
<text transform="translate(154.9 613.86) scale(1 1.08)" font-size="13.8">1-sub: 0.7581 (0.9845)</text>
<path d="M109.95 628H151.1" stroke="#ff7f0e" stroke-width="2.08" stroke-linecap="square" fill="none"/>
<path d="M109.95 632H151.62" stroke="#ff7f0e" stroke-width="2.08" stroke-dasharray="7.71 3.33" fill="none"/>
<circle cx="130.5" cy="628.5" r="6.35" fill="#ff7f0e"/>
<text transform="translate(154.9 634.91) scale(1 1.08)" font-size="13.8">2-sub: 0.8006 (0.9694)</text>
<path d="M109.95 649H151.1" stroke="#2ca02c" stroke-width="2.08" stroke-linecap="square" fill="none"/>
<path d="M109.95 653H151.62" stroke="#2ca02c" stroke-width="2.08" stroke-dasharray="7.71 3.33" fill="none"/>
<polygon points="129.8,643.3 131.2,643.3 136.7,654.3 136.7,655.9 124.3,655.9 124.3,654.3" fill="#2ca02c"/>
<text transform="translate(154.9 655.96) scale(1 1.08)" font-size="13.8">4-sub: 0.8365 (0.9498)</text>
<path d="M109.95 670H151.1" stroke="#d62728" stroke-width="2.08" stroke-linecap="square" fill="none"/>
<path d="M109.95 674H151.62" stroke="#d62728" stroke-width="2.08" stroke-dasharray="7.71 3.33" fill="none"/>
<rect x="124.05" y="664.05" width="12.9" height="12.9" fill="#d62728"/>
<text transform="translate(154.9 677.01) scale(1 1.08)" font-size="13.8">8-sub: 0.8453 (0.9343)</text>
</g>
</g>
<g>
<path d="M636.5 1012.5H1193.5M636.5 968.5H1193.5M636.5 925.5H1193.5M636.5 881.5H1193.5M636.5 838.5H1193.5M636.5 794.5H1193.5M636.5 751.5H1193.5M636.5 707.5H1193.5M636.5 664.5H1193.5M636.5 620.5H1193.5" stroke="#b0b0b0" stroke-width="1.11" fill="none"/>
<polyline points="661.62,952.23 762.77,954.14 863.92,925.17 965.08,920.82 1066.23,884.11 1167.38,792.76" fill="none" stroke="#1f77b4" stroke-width="2.08" stroke-linejoin="round" stroke-linecap="square"/>
<polygon points="662,946 663,946 667.35,952.5 663,959 662,959 657.65,952.5" fill="#1f77b4"/>
<polygon points="763,948 764,948 768.35,954.5 764,961 763,961 758.65,954.5" fill="#1f77b4"/>
<polygon points="864,919 865,919 869.35,925.5 865,932 864,932 859.65,925.5" fill="#1f77b4"/>
<polygon points="965,915 966,915 970.35,921.5 966,928 965,928 960.65,921.5" fill="#1f77b4"/>
<polygon points="1066,878 1067,878 1071.35,884.5 1067,891 1066,891 1061.65,884.5" fill="#1f77b4"/>
<polygon points="1167,787 1168,787 1172.35,793.5 1168,800 1167,800 1162.65,793.5" fill="#1f77b4"/>
<polyline points="661.62,1015 762.77,874.37 863.92,725.68 965.08,709.76 1066.23,594.92 1167.38,595.44" fill="none" stroke="#1f77b4" stroke-width="2.78" stroke-dasharray="10.28 4.44" stroke-linejoin="round"/>
<polygon points="662,1009 663,1009 667.35,1015.5 663,1022 662,1022 657.65,1015.5" fill="#1f77b4"/>
<polygon points="763,868 764,868 768.35,874.5 764,881 763,881 758.65,874.5" fill="#1f77b4"/>
<polygon points="864,720 865,720 869.35,726.5 865,733 864,733 859.65,726.5" fill="#1f77b4"/>
<polygon points="965,704 966,704 970.35,710.5 966,717 965,717 960.65,710.5" fill="#1f77b4"/>
<polygon points="1066,589 1067,589 1071.35,595.5 1067,602 1066,602 1061.65,595.5" fill="#1f77b4"/>
<polygon points="1167,589 1168,589 1172.35,595.5 1168,602 1167,602 1162.65,595.5" fill="#1f77b4"/>
<polyline points="661.62,955.62 762.77,946.05 863.92,912.73 965.08,902.03 1066.23,860.1 1167.38,742.39" fill="none" stroke="#ff7f0e" stroke-width="2.08" stroke-linejoin="round" stroke-linecap="square"/>
<circle cx="662.5" cy="956.5" r="4.85" fill="#ff7f0e"/>
<circle cx="763.5" cy="946.5" r="4.85" fill="#ff7f0e"/>
<circle cx="864.5" cy="913.5" r="4.85" fill="#ff7f0e"/>
<circle cx="965.5" cy="902.5" r="4.85" fill="#ff7f0e"/>
<circle cx="1066.5" cy="860.5" r="4.85" fill="#ff7f0e"/>
<circle cx="1167.5" cy="742.5" r="4.85" fill="#ff7f0e"/>
<polyline points="661.62,1009 762.77,967.02 863.92,825.82 965.08,801.89 1066.23,613.97 1167.38,611.02" fill="none" stroke="#ff7f0e" stroke-width="2.78" stroke-dasharray="10.28 4.44" stroke-linejoin="round"/>
<circle cx="662.5" cy="1009.5" r="4.85" fill="#ff7f0e"/>
<circle cx="763.5" cy="967.5" r="4.85" fill="#ff7f0e"/>
<circle cx="864.5" cy="826.5" r="4.85" fill="#ff7f0e"/>
<circle cx="965.5" cy="802.5" r="4.85" fill="#ff7f0e"/>
<circle cx="1066.5" cy="614.5" r="4.85" fill="#ff7f0e"/>
<circle cx="1167.5" cy="611.5" r="4.85" fill="#ff7f0e"/>
<polyline points="661.62,920.21 762.77,897.77 863.92,860.1 965.08,850.01 1066.23,805.98 1167.38,712.55" fill="none" stroke="#2ca02c" stroke-width="2.08" stroke-linejoin="round" stroke-linecap="square"/>
<polygon points="661.8,916.3 663.2,916.3 666.85,923.6 666.85,925.2 658.15,925.2 658.15,923.6" fill="#2ca02c"/>
<polygon points="762.8,894.3 764.2,894.3 767.85,901.6 767.85,903.2 759.15,903.2 759.15,901.6" fill="#2ca02c"/>
<polygon points="863.8,856.3 865.2,856.3 868.85,863.6 868.85,865.2 860.15,865.2 860.15,863.6" fill="#2ca02c"/>
<polygon points="964.8,846.3 966.2,846.3 969.85,853.6 969.85,855.2 961.15,855.2 961.15,853.6" fill="#2ca02c"/>
<polygon points="1065.8,802.3 1067.2,802.3 1070.85,809.6 1070.85,811.2 1062.15,811.2 1062.15,809.6" fill="#2ca02c"/>
<polygon points="1166.8,709.3 1168.2,709.3 1171.85,716.6 1171.85,718.2 1163.15,718.2 1163.15,716.6" fill="#2ca02c"/>
<polyline points="661.62,1015 762.77,1004.34 863.92,916.3 965.08,888.11 1066.23,644.16 1167.38,627.72" fill="none" stroke="#2ca02c" stroke-width="2.78" stroke-dasharray="10.28 4.44" stroke-linejoin="round"/>
<polygon points="661.8,1011.3 663.2,1011.3 666.85,1018.6 666.85,1020.2 658.15,1020.2 658.15,1018.6" fill="#2ca02c"/>
<polygon points="762.8,1000.3 764.2,1000.3 767.85,1007.6 767.85,1009.2 759.15,1009.2 759.15,1007.6" fill="#2ca02c"/>
<polygon points="863.8,912.3 865.2,912.3 868.85,919.6 868.85,921.2 860.15,921.2 860.15,919.6" fill="#2ca02c"/>
<polygon points="964.8,884.3 966.2,884.3 969.85,891.6 969.85,893.2 961.15,893.2 961.15,891.6" fill="#2ca02c"/>
<polygon points="1065.8,640.3 1067.2,640.3 1070.85,647.6 1070.85,649.2 1062.15,649.2 1062.15,647.6" fill="#2ca02c"/>
<polygon points="1166.8,624.3 1168.2,624.3 1171.85,631.6 1171.85,633.2 1163.15,633.2 1163.15,631.6" fill="#2ca02c"/>
<polyline points="661.62,897.86 762.77,860.1 863.92,814.94 965.08,801.89 1066.23,767.97 1167.38,700.63" fill="none" stroke="#d62728" stroke-width="2.08" stroke-linejoin="round" stroke-linecap="square"/>
<rect x="657.83" y="893.83" width="9.34" height="9.34" fill="#d62728"/>
<rect x="758.83" y="855.83" width="9.34" height="9.34" fill="#d62728"/>
<rect x="859.83" y="810.83" width="9.34" height="9.34" fill="#d62728"/>
<rect x="960.83" y="797.83" width="9.34" height="9.34" fill="#d62728"/>
<rect x="1061.83" y="763.83" width="9.34" height="9.34" fill="#d62728"/>
<rect x="1162.83" y="696.83" width="9.34" height="9.34" fill="#d62728"/>
<polyline points="661.62,1016 762.77,1010.78 863.92,976.94 965.08,937.62 1066.23,676.79 1167.38,643.47" fill="none" stroke="#d62728" stroke-width="2.78" stroke-dasharray="10.28 4.44" stroke-linejoin="round"/>
<rect x="657.83" y="1011.83" width="9.34" height="9.34" fill="#d62728"/>
<rect x="758.83" y="1006.83" width="9.34" height="9.34" fill="#d62728"/>
<rect x="859.83" y="972.83" width="9.34" height="9.34" fill="#d62728"/>
<rect x="960.83" y="933.83" width="9.34" height="9.34" fill="#d62728"/>
<rect x="1061.83" y="672.83" width="9.34" height="9.34" fill="#d62728"/>
<rect x="1162.83" y="638.83" width="9.34" height="9.34" fill="#d62728"/>
<path d="M636.5 1012.5h-4.86M636.5 968.5h-4.86M636.5 925.5h-4.86M636.5 881.5h-4.86M636.5 838.5h-4.86M636.5 794.5h-4.86M636.5 751.5h-4.86M636.5 707.5h-4.86M636.5 664.5h-4.86M636.5 620.5h-4.86M662.5 1038.5v4.86M763.5 1038.5v4.86M864.5 1038.5v4.86M965.5 1038.5v4.86M1066.5 1038.5v4.86M1167.5 1038.5v4.86" stroke="#000" stroke-width="1.11" fill="none"/>
<path d="M636.5 569.05V1038.5M1193.5 569.05V1038.5M636.5 569.5H1193.5M636.5 1038.5H1193.5" fill="none" stroke="#000" stroke-width="1.11" stroke-linecap="square"/>
<g font-size="13.46" text-anchor="middle">
<text transform="translate(662.35 1058.2) scale(1 1.08)">0</text>
<text transform="translate(763.35 1058.2) scale(1 1.08)">10</text>
<text transform="translate(864.35 1058.2) scale(1 1.08)">20</text>
<text transform="translate(965.35 1058.2) scale(1 1.08)">30</text>
<text transform="translate(1066.35 1058.2) scale(1 1.08)">40</text>
<text transform="translate(1167.35 1058.2) scale(1 1.08)">50</text>
</g>
<text x="914.4" y="1081.4" font-size="19.28" text-anchor="middle">Iterations</text>
<rect x="643.5" y="576.5" width="256.9" height="108.75" rx="2.8" ry="2.8" fill="#fff" fill-opacity="0.8" stroke="#ccc" stroke-opacity="0.8" stroke-width="1.39"/>
<g font-size="13.89">
<text transform="translate(648.9 593.1) scale(1 1.08)">Max Ensemble (Baseline: '--') Prec.</text>
<path d="M665.95 607H708" stroke="#1f77b4" stroke-width="2.08" stroke-linecap="square" fill="none"/>
<path d="M665.95 611H707.62" stroke="#1f77b4" stroke-width="2.08" stroke-dasharray="7.71 3.33" fill="none"/>
<polygon points="687,598.9 688,598.9 693.15,607.5 688,616.1 687,616.1 681.85,607.5" fill="#1f77b4"/>
<text transform="translate(712.2 613.86) scale(1 1.08)" font-size="13.8">1-sub: 0.752 (0.9794)</text>
<path d="M665.95 628H708" stroke="#ff7f0e" stroke-width="2.08" stroke-linecap="square" fill="none"/>
<path d="M665.95 632H707.62" stroke="#ff7f0e" stroke-width="2.08" stroke-dasharray="7.71 3.33" fill="none"/>
<circle cx="687.5" cy="628.5" r="6.35" fill="#ff7f0e"/>
<text transform="translate(712.2 634.91) scale(1 1.08)" font-size="13.8">2-sub: 0.8099 (0.9609)</text>
<path d="M665.95 649H708" stroke="#2ca02c" stroke-width="2.08" stroke-linecap="square" fill="none"/>
<path d="M665.95 653H707.62" stroke="#2ca02c" stroke-width="2.08" stroke-dasharray="7.71 3.33" fill="none"/>
<polygon points="686.8,643.3 688.2,643.3 693.7,654.3 693.7,655.9 681.3,655.9 681.3,654.3" fill="#2ca02c"/>
<text transform="translate(712.2 655.96) scale(1 1.08)" font-size="13.8">4-sub: 0.8442 (0.9417)</text>
<path d="M665.95 670H708" stroke="#d62728" stroke-width="2.08" stroke-linecap="square" fill="none"/>
<path d="M665.95 674H707.62" stroke="#d62728" stroke-width="2.08" stroke-dasharray="7.71 3.33" fill="none"/>
<rect x="681.05" y="664.05" width="12.9" height="12.9" fill="#d62728"/>
<text transform="translate(712.2 677.01) scale(1 1.08)" font-size="13.8">8-sub: 0.8579 (0.9236)</text>
</g>
</g>
<g>
<path d="M1193.5 1012.5H1749.5M1193.5 968.5H1749.5M1193.5 925.5H1749.5M1193.5 881.5H1749.5M1193.5 838.5H1749.5M1193.5 794.5H1749.5M1193.5 751.5H1749.5M1193.5 707.5H1749.5M1193.5 664.5H1749.5M1193.5 620.5H1749.5" stroke="#b0b0b0" stroke-width="1.11" fill="none"/>
<polyline points="1217.96,946.05 1319.11,959.8 1420.26,937.62 1521.41,931.09 1622.56,887.15 1723.71,795.89" fill="none" stroke="#1f77b4" stroke-width="2.08" stroke-linejoin="round" stroke-linecap="square"/>
<polygon points="1218,940 1219,940 1223.35,946.5 1219,953 1218,953 1213.65,946.5" fill="#1f77b4"/>
<polygon points="1319,954 1320,954 1324.35,960.5 1320,967 1319,967 1314.65,960.5" fill="#1f77b4"/>
<polygon points="1420,932 1421,932 1425.35,938.5 1421,945 1420,945 1415.65,938.5" fill="#1f77b4"/>
<polygon points="1521,925 1522,925 1526.35,931.5 1522,938 1521,938 1516.65,931.5" fill="#1f77b4"/>
<polygon points="1623,881 1624,881 1628.35,887.5 1624,894 1623,894 1618.65,887.5" fill="#1f77b4"/>
<polygon points="1724,790 1725,790 1729.35,796.5 1725,803 1724,803 1719.65,796.5" fill="#1f77b4"/>
<polyline points="1217.96,1012 1319.11,874.71 1420.26,730.38 1521.41,709.76 1622.56,601.19 1723.71,597.62" fill="none" stroke="#1f77b4" stroke-width="2.78" stroke-dasharray="10.28 4.44" stroke-linejoin="round"/>
<polygon points="1218,1006 1219,1006 1223.35,1012.5 1219,1019 1218,1019 1213.65,1012.5" fill="#1f77b4"/>
<polygon points="1319,869 1320,869 1324.35,875.5 1320,882 1319,882 1314.65,875.5" fill="#1f77b4"/>
<polygon points="1420,724 1421,724 1425.35,730.5 1421,737 1420,737 1415.65,730.5" fill="#1f77b4"/>
<polygon points="1521,704 1522,704 1526.35,710.5 1522,717 1521,717 1516.65,710.5" fill="#1f77b4"/>
<polygon points="1623,595 1624,595 1628.35,601.5 1624,608 1623,608 1618.65,601.5" fill="#1f77b4"/>
<polygon points="1724,592 1725,592 1729.35,598.5 1725,605 1724,605 1719.65,598.5" fill="#1f77b4"/>
<polyline points="1217.96,948.23 1319.11,949.1 1420.26,918.91 1521.41,920.82 1622.56,844.09 1723.71,745.78" fill="none" stroke="#ff7f0e" stroke-width="2.08" stroke-linejoin="round" stroke-linecap="square"/>
<circle cx="1218.5" cy="948.5" r="4.85" fill="#ff7f0e"/>
<circle cx="1319.5" cy="949.5" r="4.85" fill="#ff7f0e"/>
<circle cx="1420.5" cy="919.5" r="4.85" fill="#ff7f0e"/>
<circle cx="1521.5" cy="921.5" r="4.85" fill="#ff7f0e"/>
<circle cx="1623.5" cy="844.5" r="4.85" fill="#ff7f0e"/>
<circle cx="1724.5" cy="746.5" r="4.85" fill="#ff7f0e"/>
<polyline points="1217.96,1014.61 1319.11,961.11 1420.26,821.47 1521.41,797.37 1622.56,623.89 1723.71,609.1" fill="none" stroke="#ff7f0e" stroke-width="2.78" stroke-dasharray="10.28 4.44" stroke-linejoin="round"/>
<circle cx="1218.5" cy="1015.5" r="4.85" fill="#ff7f0e"/>
<circle cx="1319.5" cy="961.5" r="4.85" fill="#ff7f0e"/>
<circle cx="1420.5" cy="821.5" r="4.85" fill="#ff7f0e"/>
<circle cx="1521.5" cy="797.5" r="4.85" fill="#ff7f0e"/>
<circle cx="1623.5" cy="624.5" r="4.85" fill="#ff7f0e"/>
<circle cx="1724.5" cy="609.5" r="4.85" fill="#ff7f0e"/>
<polyline points="1217.96,923.61 1319.11,913.34 1420.26,889.07 1521.41,868.45 1622.56,804.85 1723.71,715.94" fill="none" stroke="#2ca02c" stroke-width="2.08" stroke-linejoin="round" stroke-linecap="square"/>
<polygon points="1217.8,920.3 1219.2,920.3 1222.85,927.6 1222.85,929.2 1214.15,929.2 1214.15,927.6" fill="#2ca02c"/>
<polygon points="1318.8,909.3 1320.2,909.3 1323.85,916.6 1323.85,918.2 1315.15,918.2 1315.15,916.6" fill="#2ca02c"/>
<polygon points="1419.8,885.3 1421.2,885.3 1424.85,892.6 1424.85,894.2 1416.15,894.2 1416.15,892.6" fill="#2ca02c"/>
<polygon points="1520.8,864.3 1522.2,864.3 1525.85,871.6 1525.85,873.2 1517.15,873.2 1517.15,871.6" fill="#2ca02c"/>
<polygon points="1622.8,801.3 1624.2,801.3 1627.85,808.6 1627.85,810.2 1619.15,810.2 1619.15,808.6" fill="#2ca02c"/>
<polygon points="1723.8,712.3 1725.2,712.3 1728.85,719.6 1728.85,721.2 1720.15,721.2 1720.15,719.6" fill="#2ca02c"/>
<polyline points="1217.96,1012 1319.11,999.56 1420.26,906.9 1521.41,861.06 1622.56,654.08 1723.71,623.46" fill="none" stroke="#2ca02c" stroke-width="2.78" stroke-dasharray="10.28 4.44" stroke-linejoin="round"/>
<polygon points="1217.8,1008.3 1219.2,1008.3 1222.85,1015.6 1222.85,1017.2 1214.15,1017.2 1214.15,1015.6" fill="#2ca02c"/>
<polygon points="1318.8,996.3 1320.2,996.3 1323.85,1003.6 1323.85,1005.2 1315.15,1005.2 1315.15,1003.6" fill="#2ca02c"/>
<polygon points="1419.8,903.3 1421.2,903.3 1424.85,910.6 1424.85,912.2 1416.15,912.2 1416.15,910.6" fill="#2ca02c"/>
<polygon points="1520.8,857.3 1522.2,857.3 1525.85,864.6 1525.85,866.2 1517.15,866.2 1517.15,864.6" fill="#2ca02c"/>
<polygon points="1622.8,650.3 1624.2,650.3 1627.85,657.6 1627.85,659.2 1619.15,659.2 1619.15,657.6" fill="#2ca02c"/>
<polygon points="1723.8,619.3 1725.2,619.3 1728.85,626.6 1728.85,628.2 1720.15,628.2 1720.15,626.6" fill="#2ca02c"/>
<polyline points="1217.96,887.94 1319.11,878.89 1420.26,841.91 1521.41,828.87 1622.56,781.02 1723.71,702.98" fill="none" stroke="#d62728" stroke-width="2.08" stroke-linejoin="round" stroke-linecap="square"/>
<rect x="1213.83" y="883.83" width="9.34" height="9.34" fill="#d62728"/>
<rect x="1314.83" y="874.83" width="9.34" height="9.34" fill="#d62728"/>
<rect x="1415.83" y="837.83" width="9.34" height="9.34" fill="#d62728"/>
<rect x="1516.83" y="824.83" width="9.34" height="9.34" fill="#d62728"/>
<rect x="1618.83" y="776.83" width="9.34" height="9.34" fill="#d62728"/>
<rect x="1719.83" y="698.83" width="9.34" height="9.34" fill="#d62728"/>
<polyline points="1217.96,1014 1319.11,1011.04 1420.26,966.85 1521.41,905.86 1622.56,688.01 1723.71,634.68" fill="none" stroke="#d62728" stroke-width="2.78" stroke-dasharray="10.28 4.44" stroke-linejoin="round"/>
<rect x="1213.83" y="1009.83" width="9.34" height="9.34" fill="#d62728"/>
<rect x="1314.83" y="1006.83" width="9.34" height="9.34" fill="#d62728"/>
<rect x="1415.83" y="962.83" width="9.34" height="9.34" fill="#d62728"/>
<rect x="1516.83" y="901.83" width="9.34" height="9.34" fill="#d62728"/>
<rect x="1618.83" y="683.83" width="9.34" height="9.34" fill="#d62728"/>
<rect x="1719.83" y="630.83" width="9.34" height="9.34" fill="#d62728"/>
<path d="M1193.5 1012.5h-4.86M1193.5 968.5h-4.86M1193.5 925.5h-4.86M1193.5 881.5h-4.86M1193.5 838.5h-4.86M1193.5 794.5h-4.86M1193.5 751.5h-4.86M1193.5 707.5h-4.86M1193.5 664.5h-4.86M1193.5 620.5h-4.86M1218.5 1038.5v4.86M1319.5 1038.5v4.86M1420.5 1038.5v4.86M1521.5 1038.5v4.86M1623.5 1038.5v4.86M1724.5 1038.5v4.86" stroke="#000" stroke-width="1.11" fill="none"/>
<path d="M1193.5 569.05V1038.5M1749.5 569.05V1038.5M1193.5 569.5H1749.5M1193.5 1038.5H1749.5" fill="none" stroke="#000" stroke-width="1.11" stroke-linecap="square"/>
<g font-size="13.46" text-anchor="middle">
<text transform="translate(1218.35 1058.2) scale(1 1.08)">0</text>
<text transform="translate(1319.35 1058.2) scale(1 1.08)">10</text>
<text transform="translate(1420.35 1058.2) scale(1 1.08)">20</text>
<text transform="translate(1521.35 1058.2) scale(1 1.08)">30</text>
<text transform="translate(1623.35 1058.2) scale(1 1.08)">40</text>
<text transform="translate(1724.35 1058.2) scale(1 1.08)">50</text>
</g>
<text x="1470.9" y="1081.4" font-size="19.28" text-anchor="middle">Iterations</text>
<text transform="translate(1780.2 804) rotate(-90)" font-size="20.93" text-anchor="middle">Dynamics + Features</text>
<rect x="1200.5" y="576.5" width="256.9" height="108.75" rx="2.8" ry="2.8" fill="#fff" fill-opacity="0.8" stroke="#ccc" stroke-opacity="0.8" stroke-width="1.39"/>
<g font-size="13.89">
<text transform="translate(1205 593.1) scale(1 1.08)">Max Ensemble (Baseline: '--') Prec.</text>
<path d="M1222.95 607H1264.1" stroke="#1f77b4" stroke-width="2.08" stroke-linecap="square" fill="none"/>
<path d="M1222.95 611H1264.62" stroke="#1f77b4" stroke-width="2.08" stroke-dasharray="7.71 3.33" fill="none"/>
<polygon points="1243,598.9 1244,598.9 1249.15,607.5 1244,616.1 1243,616.1 1237.85,607.5" fill="#1f77b4"/>
<text transform="translate(1267.9 613.86) scale(1 1.08)" font-size="13.8">1-sub: 0.7484 (0.9763)</text>
<path d="M1222.95 628H1264.1" stroke="#ff7f0e" stroke-width="2.08" stroke-linecap="square" fill="none"/>
<path d="M1222.95 632H1264.62" stroke="#ff7f0e" stroke-width="2.08" stroke-dasharray="7.71 3.33" fill="none"/>
<circle cx="1243.5" cy="628.5" r="6.35" fill="#ff7f0e"/>
<text transform="translate(1267.9 634.91) scale(1 1.08)" font-size="13.8">2-sub: 0.806 (0.9631)</text>
<path d="M1222.95 649H1264.1" stroke="#2ca02c" stroke-width="2.08" stroke-linecap="square" fill="none"/>
<path d="M1222.95 653H1264.62" stroke="#2ca02c" stroke-width="2.08" stroke-dasharray="7.71 3.33" fill="none"/>
<polygon points="1242.8,643.3 1244.2,643.3 1249.7,654.3 1249.7,655.9 1237.3,655.9 1237.3,654.3" fill="#2ca02c"/>
<text transform="translate(1267.9 655.96) scale(1 1.08)" font-size="13.8">4-sub: 0.8403 (0.9466)</text>
<path d="M1222.95 670H1264.1" stroke="#d62728" stroke-width="2.08" stroke-linecap="square" fill="none"/>
<path d="M1222.95 674H1264.62" stroke="#d62728" stroke-width="2.08" stroke-dasharray="7.71 3.33" fill="none"/>
<rect x="1237.05" y="664.05" width="12.9" height="12.9" fill="#d62728"/>
<text transform="translate(1267.9 677.01) scale(1 1.08)" font-size="13.8">8-sub: 0.8552 (0.9337)</text>
</g>
</g>
<text x="205.3" y="91.8" font-size="20.83">FCA</text>
<text x="249.7" y="94.4" font-size="15.2" font-family="'DejaVu Sans', 'Liberation Sans', sans-serif">600</text>
<text x="285" y="91.8" font-size="20.92">(Std. # Edges: 37.85)</text>
<text x="748.3" y="91.8" font-size="20.83">FCA</text>
<text transform="translate(792.8 106.3) scale(1 2.14)" font-size="20" font-family="'DejaVu Sans', 'Liberation Sans', sans-serif">′</text>
<text x="792.6" y="97.5" font-size="15.2" font-family="'DejaVu Sans', 'Liberation Sans', sans-serif">600</text>
<text x="828" y="91.8" font-size="20.92">(Std. # Edges: 2371.72)</text>
<text x="1214.1" y="91.8" font-size="20.83">FCA</text>
<text transform="translate(1258.75 106.3) scale(1 2.14)" font-size="20" font-family="'DejaVu Sans', 'Liberation Sans', sans-serif" dx="0 -0.49">′′</text>
<text x="1258.6" y="97.5" font-size="15.2" font-family="'DejaVu Sans', 'Liberation Sans', sans-serif">600</text>
<text x="1294.4" y="91.8" font-size="20.92">(Std. # {Edges: 1461.08, Nodes: 86.60})</text>
</svg>
</body></html>
